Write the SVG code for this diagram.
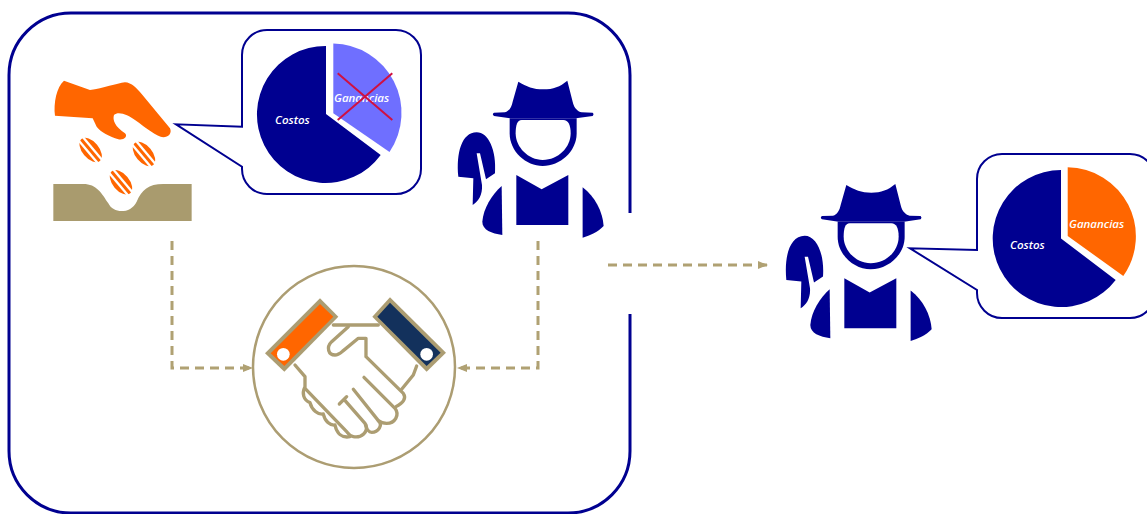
<svg xmlns="http://www.w3.org/2000/svg" xmlns:xlink="http://www.w3.org/1999/xlink" width="1147" height="514" viewBox="0 0 1147 514">
<style>
.b{fill:#000090}
.o{fill:#ff6600}
.bub{fill:#fff;stroke:#000090;stroke-width:2}
.lab{font-family:"Open Sans","Noto Sans",sans-serif;font-style:italic;font-weight:600;font-size:11.5px;fill:#fff}
.con{fill:none;stroke:#b0a173;stroke-width:3;stroke-dasharray:9 6}
.h{fill:none;stroke:#ac9d72;stroke-width:10;stroke-linejoin:round;stroke-linecap:round}
.x{stroke:#d01040;stroke-width:2}
</style>
<defs>
<marker id="ah" markerWidth="10" markerHeight="10" refX="9" refY="4" orient="auto" markerUnits="userSpaceOnUse"><path d="M0,0L10,4L0,8Z" fill="#b0a173"/></marker>
<g id="farmer">
<path class="b" d="M205,35C230,50 250,58 280,58C310,58 330,50 352,32L368,95C372,115 385,125 395,127L428,128Q433,133 428,138L378,145L182,145L132,138Q125,133 132,128L165,127C178,124 185,110 188,95Z"/>
<path class="b" d="M179,145L380,145L380,190C380,245 330,288 278,288C228,288 179,245 179,190Z"/>
<path fill="#fff" d="M215,150L340,150C355,150 362,165 362,190C362,232 325,270 278,270C235,270 197,232 197,190C197,165 202,150 215,150Z"/>
<path class="b" d="M25,320C18,250 35,187 80,187C115,187 140,240 135,310L108,328L90,250L80,250L96,345C98,375 85,395 68,405L70,325Z"/>
<path class="b" d="M199,315L275,358L355,315L355,465L199,465Z"/>
<path class="b" d="M155,348L157,495C125,490 97,480 97,455C100,415 125,375 155,348Z"/>
<path class="b" d="M398,352C435,380 458,425 461,468C445,485 420,497 398,503Z"/>
</g>
<g id="seed">
<ellipse class="o" rx="43" ry="25" transform="rotate(50)"/>
<g transform="rotate(50)" stroke="#fff" stroke-width="7"><line x1="-48" y1="-7" x2="48" y2="-7"/><line x1="-48" y1="9" x2="48" y2="9"/></g>
</g>
</defs>
<g id="frame"><path d="M630,213V75A62,62 0 0 0 568,13H71A62,62 0 0 0 9,75V451A62,62 0 0 0 71,513H568A62,62 0 0 0 630,451V314" fill="none" stroke="#000090" stroke-width="3"/></g>
<g id="connectors">
<path class="con" d="M172,241V368H252" marker-end="url(#ah)"/>
<path class="con" d="M538,241V368H458" marker-end="url(#ah)"/>
<path class="con" d="M608,265H767" marker-end="url(#ah)"/>
</g>
<g id="sower">
<g transform="translate(40,20) scale(.3333)">
<path class="o" d="M72,182L150,210C190,205 230,190 255,187C275,188 290,205 305,222L390,325C397,340 385,352 370,352C350,350 320,325 285,300C265,285 235,272 222,285C217,300 225,320 255,340C265,350 250,362 235,358C210,350 180,335 170,320L158,295L45,287C40,250 50,200 72,182Z"/>
<use xlink:href="#seed" href="#seed" transform="translate(152,390)"/>
<use xlink:href="#seed" href="#seed" transform="translate(312,402)"/>
<use xlink:href="#seed" href="#seed" transform="translate(243,487)"/>
<path fill="#a99b6e" d="M40,492L130,492C170,492 185,520 205,550C220,582 272,582 290,545C305,510 325,492 370,492L455,492L455,603L40,603Z"/>
</g>
</g>
<g id="bubble-left">
<path class="bub" d="M267,30H396A25,25 0 0 1 421,55V169A25,25 0 0 1 396,194H267A25,25 0 0 1 242,169V166.700L176,124.300L242,126.700V55A25,25 0 0 1 267,30Z"/>
<path class="b" d="M326,114V46A68.500,68.500 0 1 0 380.700,155Z"/>
<path fill="#6f6fff" d="M333.300,113.300V43.500A69.500,69.500 0 0 1 389.500,152Z"/>
<text class="lab" x="275" y="124">Costos</text>
<text class="lab" x="334" y="102">Ganancias</text>
<line class="x" x1="337.700" y1="73.300" x2="392.300" y2="120"/>
<line class="x" x1="392.300" y1="73.300" x2="337.700" y2="120"/>
</g>
<g id="farmer-left"><use xlink:href="#farmer" href="#farmer" transform="translate(450,70) scale(.3333)"/></g>
<g id="handshake">
<circle cx="354" cy="367" r="101" fill="#fff" stroke="#ac9d72" stroke-width="2.500"/>
<g transform="translate(240,260) scale(.3333)">
<path class="h" d="M280,195H415"/>
<path class="h" d="M325,200L275,245C258,262 265,285 285,285C295,285 300,280 310,272L355,235H378V290L490,400C500,415 490,428 468,440"/>
<path class="h" d="M372,352L465,445C480,465 465,490 440,490C430,490 425,490 415,482L340,388"/>
<path class="h" d="M415,482C430,495 415,517 395,517C385,517 380,510 375,490L312,418M298,432L320,410"/>
<path class="h" d="M378,495C385,515 365,535 340,530C330,528 325,522 320,515L195,385"/>
<path class="h" d="M165,315L195,350V380C185,400 190,420 210,428C215,450 235,465 250,462C255,485 270,497 285,495C290,520 305,535 330,530"/>
<path class="h" d="M530,318L520,345L485,388"/>
<path fill="#ac9d72" d="M240,115L295,170L133,335L75,280Z"/>
<path class="o" d="M240,132L280,170L133,318L92,280Z"/>
<circle cx="130" cy="283" r="19" fill="#fff"/>
<path fill="#ac9d72" d="M450,112L618,278L560,335L397,170Z"/>
<path fill="#13315c" d="M450,128L602,278L560,318L412,170Z"/>
<circle cx="560" cy="283" r="19" fill="#fff"/>
</g>
</g>
<g id="farmer-right"><use xlink:href="#farmer" href="#farmer" transform="translate(778,173.300) scale(.3333)"/></g>
<g id="bubble-right">
<path class="bub" d="M1002,154H1130A25,25 0 0 1 1155,179V293A25,25 0 0 1 1130,318H1002A25,25 0 0 1 977,293V290L910,248.300L977,250V179A25,25 0 0 1 1002,154Z"/>
<path class="b" d="M1061,238.500V170A68.500,68.500 0 1 0 1115.700,280Z"/>
<path class="o" d="M1067.700,236V167.300A69,69 0 0 1 1123.300,276Z"/>
<text class="lab" x="1010" y="249">Costos</text>
<text class="lab" x="1069" y="228">Ganancias</text>
</g>
</svg>
